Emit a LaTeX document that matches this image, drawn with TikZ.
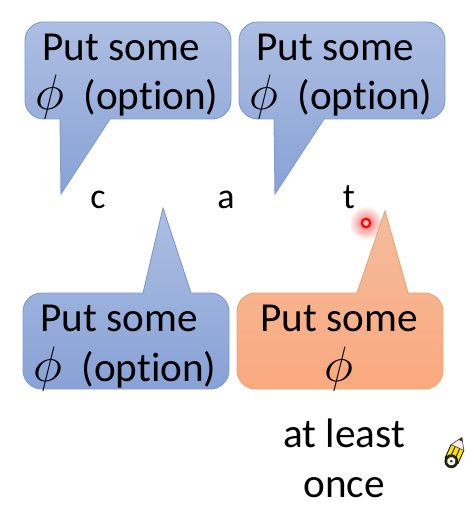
\documentclass[tikz,border=0pt]{standalone}
\usepackage{fontspec}
\setmainfont{Carlito}[Ligatures=NoCommon]
\definecolor{bluetop}{HTML}{ADBEE2}
\definecolor{bluebot}{HTML}{88A2D6}
\definecolor{blueline}{HTML}{7F9BD0}
\definecolor{orangetop}{HTML}{F3BC9C}
\definecolor{orangebot}{HTML}{FBA97F}
\definecolor{orangeline}{HTML}{EDA46F}
\newcommand{\bigphi}{\scalebox{1.5}{\(\phi\)}}
\tikzset{
  bubble/.style={line width=0.7pt,rounded corners=14pt},
  bluebubble/.style={bubble,draw=blueline,top color=bluetop,bottom color=bluebot},
  orangebubble/.style={bubble,draw=orangeline,top color=orangetop,bottom color=orangebot},
  saying/.style={font=\fontsize{30.9}{31}\selectfont,inner sep=0pt,anchor=base},
  letter/.style={font=\fontsize{27}{27}\selectfont,inner sep=0pt,anchor=base}
}
\begin{document}
\begin{tikzpicture}[x=0.75pt,y=-0.75pt]
  \useasboundingbox (0,0) rectangle (466,506);
  % laser pointer
  \shade[inner color=red!60,outer color=white] (366,223) circle (17);
  \draw[red,line width=1.6pt,fill=red!25] (366,223) circle (4.2);
  % bubbles hanging down
  \foreach \x in {25,239}
  {
    \draw[bluebubble] (\x,22) -- (\x+206,22) -- (\x+206,119) [sharp corners] -- (\x+85,119)
      -- (\x+36,194) -- (\x+35,119) [rounded corners=14pt] -- (\x,119) -- cycle;
  }
  % bubbles pointing up
  \draw[bluebubble] (23,293) [sharp corners] -- (143,293) -- (163,208) -- (191,293)
    [rounded corners=14pt] -- (229,293) -- (229,389) -- (23,389) -- cycle;
  \draw[orangebubble] (237,293) [sharp corners] -- (357,293) -- (385,211) -- (408,293)
    [rounded corners=14pt] -- (443,293) -- (443,389) -- (237,389) -- cycle;
  % texts
  \node[saying] (some1) at (121,60.5) {Put some};
  \node[saying] (phi1) at (50,110) {\bigphi};
  \node[saying] (opt1) at (151,110) {(option)};
  \node[saying] (some2) at (335,60.5) {Put some};
  \node[saying] (phi2) at (264,110) {\bigphi};
  \node[saying] (opt2) at (365,110) {(option)};
  \node[saying] (some3) at (119,331) {Put some};
  \node[saying] (phi3) at (48,381) {\bigphi};
  \node[saying] (opt3) at (149,381) {(option)};
  \node[saying] (some4) at (339,331) {Put some};
  \node[saying] (phi4) at (339,381) {\bigphi};
  \node[letter] (c) at (98,208) {c};
  \node[letter] (a) at (226,208) {a};
  \node[letter] (t) at (349,208) {t};
  \node[saying] (least) at (344,447) {at least};
  \node[saying] (once) at (344,497) {once};
  % pencil
  \begin{scope}[shift={(455,453)},rotate=-24]
    \fill[yellow!85!orange] (-7,-6) rectangle (7,9);
    \draw[black,line width=0.6pt] (-7,-6) -- (-7,9) (-2.5,-6) -- (-2.5,9) (2.5,-6) -- (2.5,9) (7,-6) -- (7,9);
    \draw[black!70,fill=pink!35!white,line width=0.5pt] (-7,-6) -- (0,-17) -- (7,-6) -- cycle;
    \fill[black!80] (-2.2,-13.5) -- (0,-17) -- (2.2,-13.5) -- cycle;
    \draw[black,fill=black!85,line width=0.5pt] (0,9) circle (6.5);
    \fill[yellow!15!white] (0,9) circle (4.2);
    \fill[black!80] (0,9) circle (1.5);
  \end{scope}
\end{tikzpicture}
\end{document}
